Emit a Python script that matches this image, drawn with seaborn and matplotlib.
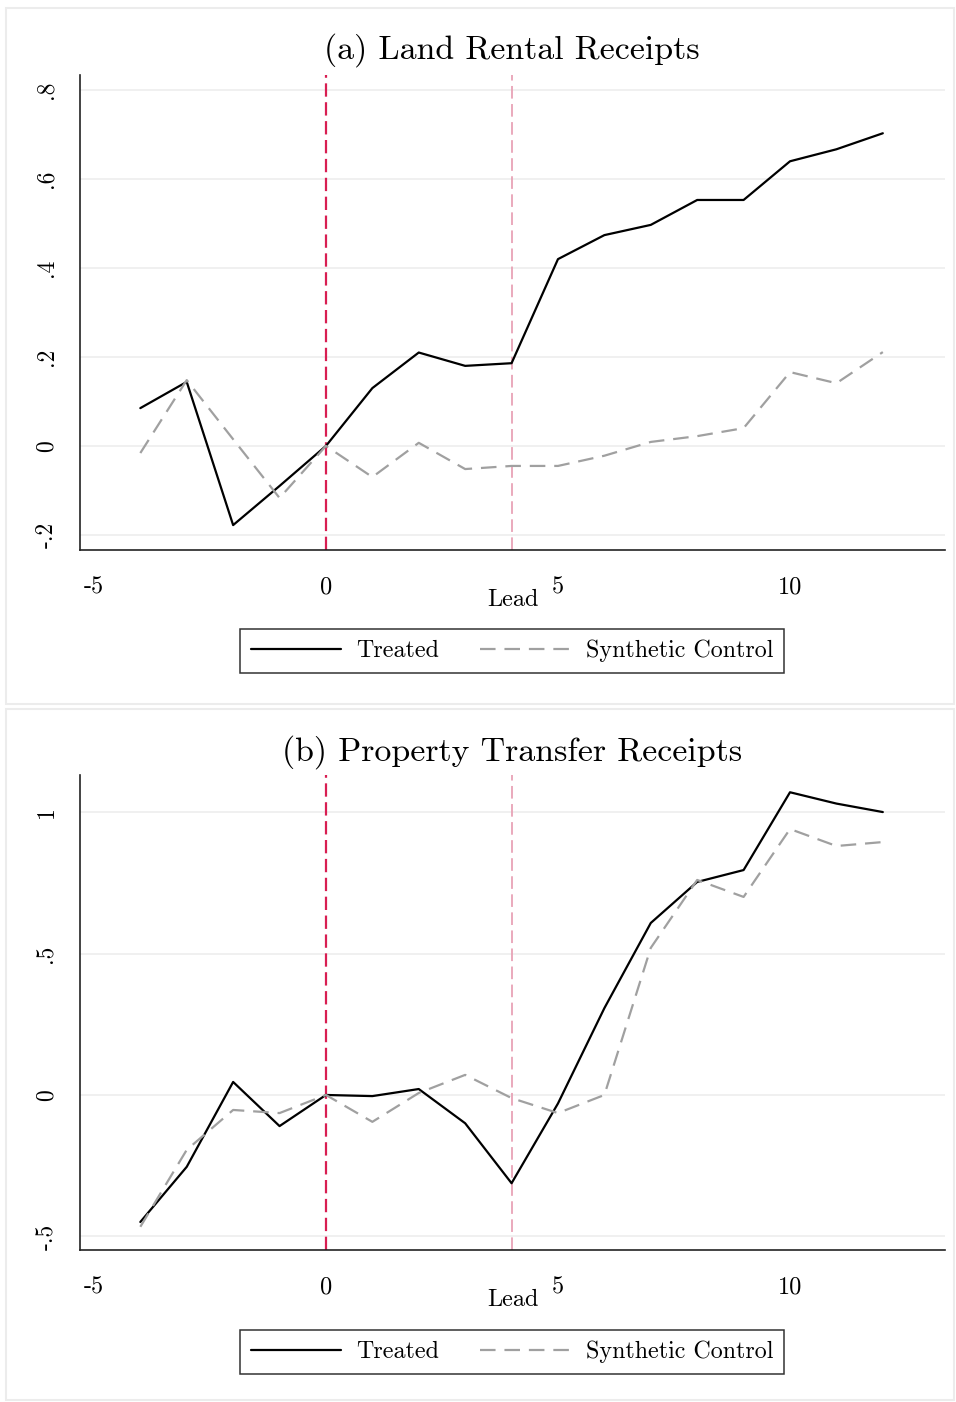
import matplotlib
matplotlib.use("Agg")
import matplotlib.pyplot as plt
import pandas as pd
import seaborn as sns
from matplotlib.patches import Rectangle

# Event-time leads and the two outcome series for each panel
lead = list(range(-4, 13))

land_treated = [0.085, 0.144, -0.178, -0.090, 0.000, 0.130, 0.210, 0.180, 0.186,
                0.420, 0.474, 0.497, 0.553, 0.553, 0.640, 0.667, 0.703]
land_synth = [-0.016, 0.148, 0.015, -0.117, 0.000, -0.070, 0.007, -0.052, -0.045,
              -0.045, -0.022, 0.009, 0.022, 0.040, 0.166, 0.141, 0.211]

prop_treated = [-0.449, -0.254, 0.046, -0.110, 0.000, -0.004, 0.021, -0.100, -0.312,
                -0.030, 0.307, 0.608, 0.753, 0.795, 1.070, 1.030, 1.000]
prop_synth = [-0.466, -0.194, -0.053, -0.064, 0.000, -0.095, 0.007, 0.071, -0.011,
              -0.064, 0.000, 0.520, 0.760, 0.700, 0.940, 0.880, 0.894]

titles = ["(a) Land Rental Receipts", "(b) Property Transfer Receipts"]
series_names = ["Treated", "Synthetic Control"]
x_label = "Lead"
x_ticks = [-5, 0, 5, 10]
land_yticks = [-0.2, 0.0, 0.2, 0.4, 0.6, 0.8]
land_yticklabels = ["-.2", "0", ".2", ".4", ".6", ".8"]
prop_yticks = [-0.5, 0.0, 0.5, 1.0]
prop_yticklabels = ["-.5", "0", ".5", "1"]
event_leads = [0, 4]

sns.set_style("white")
plt.rcParams["font.family"] = ["cmr10", "DejaVu Serif"]
plt.rcParams["axes.unicode_minus"] = False
plt.rcParams["mathtext.fontset"] = "cm"
for key in ["text.color", "axes.labelcolor", "xtick.color", "ytick.color"]:
    plt.rcParams[key] = "black"

W, H = 956, 1402
fig = plt.figure(figsize=(W / 100, H / 100), dpi=100)

# light panel frames
for (x0, y0, x1, y1) in [(6, 8, 954, 704), (6, 709, 954, 1400)]:
    fig.patches.append(Rectangle((x0 / W, 1 - y1 / H), (x1 - x0) / W, (y1 - y0) / H,
                                 transform=fig.transFigure, facecolor="none",
                                 edgecolor="#ececec", lw=1.5, zorder=0))

panels = [
    dict(treated=land_treated, synth=land_synth, title=titles[0], yticks=land_yticks,
         ylabels=land_yticklabels, ylim=(-0.234, 0.834), top=75, bottom=550,
         title_y=50, legend_y=651),
    dict(treated=prop_treated, synth=prop_synth, title=titles[1], yticks=prop_yticks,
         ylabels=prop_yticklabels, ylim=(-0.548, 1.131), top=775, bottom=1250,
         title_y=752, legend_y=1352),
]

ax_left, ax_right = 80, 945
palette = {"Treated": "black", "Synthetic Control": "#a0a0a0"}
dashes = {"Treated": "", "Synthetic Control": (7, 4)}

for p in panels:
    ax = fig.add_axes([ax_left / W, 1 - p["bottom"] / H,
                       (ax_right - ax_left) / W, (p["bottom"] - p["top"]) / H])
    df = pd.DataFrame({
        "Lead": lead * 2,
        "value": p["treated"] + p["synth"],
        "series": [series_names[0]] * len(lead) + [series_names[1]] * len(lead),
    })
    sns.lineplot(data=df, x="Lead", y="value", hue="series", style="series",
                 hue_order=series_names, style_order=series_names,
                 palette=palette, dashes=dashes, linewidth=1.6, legend=False, ax=ax)
    handles = list(ax.get_lines()[:2])

    ax.axvline(event_leads[0], color="#d81e52", lw=1.6, ls=(0, (6, 2.5)), zorder=1)
    ax.axvline(event_leads[1], color="#e8a3b6", lw=1.3, ls=(0, (7, 3)), zorder=1)

    ax.set_xlim(-5.3, 13.34)
    ax.set_ylim(*p["ylim"])
    ax.set_xticks(x_ticks)
    ax.set_xticklabels([str(t) for t in x_ticks], fontsize=17.5)
    ax.set_yticks(p["yticks"])
    ax.set_yticklabels(p["ylabels"], rotation=90, va="center", fontsize=17)
    ax.tick_params(axis="both", direction="out", length=7, width=1.1, color="#222222")
    ax.tick_params(axis="x", pad=12)
    ax.tick_params(axis="y", pad=9)
    ax.yaxis.grid(True, color="#efefef", lw=1.3)
    ax.xaxis.grid(False)
    for s in ["top", "right"]:
        ax.spines[s].set_visible(False)
    for s in ["left", "bottom"]:
        ax.spines[s].set_color("#222222")
        ax.spines[s].set_linewidth(1.2)

    ax.set_ylabel("")
    ax.set_xlabel(x_label, fontsize=17.5)
    ax.xaxis.set_label_coords(0.5, -0.082)

    fig.text(512 / W, 1 - p["title_y"] / H, p["title"], fontsize=24.4,
             ha="center", va="center")

    leg_y = (p["bottom"] - p["legend_y"]) / (p["bottom"] - p["top"])
    leg = ax.legend(handles, series_names, loc="center",
                    bbox_to_anchor=(0.4994, leg_y), ncol=2, frameon=True,
                    fancybox=False, edgecolor="black", fontsize=17.3,
                    handlelength=3.75, handletextpad=0.65, columnspacing=1.7,
                    borderpad=0.45, borderaxespad=0)
    leg.get_frame().set_linewidth(1.1)

fig.savefig("out.png", dpi=100, facecolor="white")
